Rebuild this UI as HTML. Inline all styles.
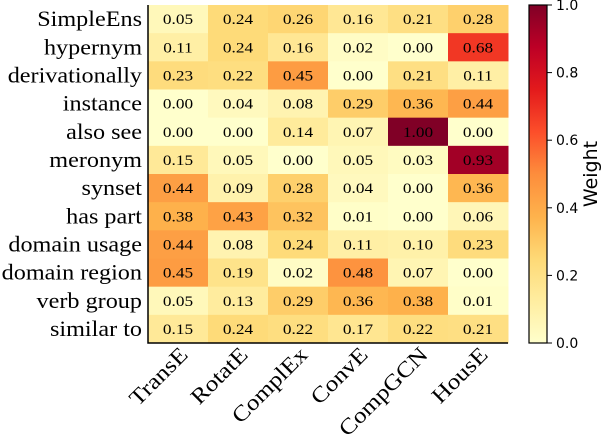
<!DOCTYPE html>
<html><head><meta charset="utf-8"><style>
body{margin:0;background:#fff;}
svg{display:block;}
</style></head><body>
<svg id="chart" width="604" height="436" xmlns="http://www.w3.org/2000/svg"></svg>
<script>
const rows=["SimpleEns","hypernym","derivationally","instance","also see","meronym","synset","has part","domain usage","domain region","verb group","similar to"];
const cols=["TransE","RotatE","ComplEx","ConvE","CompGCN","HousE"];
const values=[
[0.05,0.24,0.26,0.16,0.21,0.28],
[0.11,0.24,0.16,0.02,0.00,0.68],
[0.23,0.22,0.45,0.00,0.21,0.11],
[0.00,0.04,0.08,0.29,0.36,0.44],
[0.00,0.00,0.14,0.07,1.00,0.00],
[0.15,0.05,0.00,0.05,0.03,0.93],
[0.44,0.09,0.28,0.04,0.00,0.36],
[0.38,0.43,0.32,0.01,0.00,0.06],
[0.44,0.08,0.24,0.11,0.10,0.23],
[0.45,0.19,0.02,0.48,0.07,0.00],
[0.05,0.13,0.29,0.36,0.38,0.01],
[0.15,0.24,0.22,0.17,0.22,0.21]];
const cbTicks=[0.0,0.2,0.4,0.6,0.8,1.0];

const NS="http://www.w3.org/2000/svg";
const svg=document.getElementById('chart');
const L=148,T=5,W=360,H=338,cw=W/cols.length,rh=H/rows.length;
const cbX=529,cbW=18,cbT=5,cbB=343;
const stops=["#ffffcc","#ffeda0","#fed976","#feb24c","#fd8d3c","#fc4e2a","#e31a1c","#bd0026","#800026"];
function hex(h){return [1,3,5].map(i=>parseInt(h.substr(i,2),16));}
function cmap(v){v=Math.max(0,Math.min(1,v));const p=v*(stops.length-1);const i=Math.min(Math.floor(p),stops.length-2);const f=p-i;const a=hex(stops[i]),b=hex(stops[i+1]);return `rgb(${a.map((x,k)=>Math.round(x+(b[k]-x)*f)).join(',')})`;}
function el(t,a){const e=document.createElementNS(NS,t);for(const k in a)e.setAttribute(k,a[k]);svg.appendChild(e);return e;}
const xS=j=>L+j*cw, yS=i=>T+i*rh;
rows.forEach((r,i)=>{cols.forEach((c,j)=>{
 const v=values[i][j];
 const rect=el('rect',{x:xS(j),y:yS(i),width:cw+0.5,height:rh+0.5,fill:cmap(v)});
 
 
 const t=el('text',{x:0,y:0,'text-anchor':'middle','font-family':'Liberation Serif, serif','font-size':'15',fill:'#000',transform:`translate(${xS(j)+cw/2},${yS(i)+rh/2+5}) scale(1.15,1)`});
 t.textContent=v.toFixed(2);
 
 
});
 const lb=el('text',{x:0,y:0,'text-anchor':'end','font-family':'Liberation Serif, serif','font-size':'22',transform:`translate(${L-6},${yS(i)+rh/2+7}) scale(1.1,1)`});
 lb.textContent=r;
 
 
});
cols.forEach((c,j)=>{
 const x=xS(j)+cw/2;
 const t=el('text',{x:0,y:0,'text-anchor':'end','font-family':'Liberation Serif, serif','font-size':'22',transform:`translate(${x+11},${T+H+13}) rotate(-45) scale(1.15,1)`});
 t.textContent=c;
 
 
});
const ax=el('path',{d:`M${L},${T} V${T+H} H${L+W}`,fill:'none',stroke:'#000','stroke-width':1.5});


const defs=el('defs',{});
const g=document.createElementNS(NS,'linearGradient');g.setAttribute('id','cg');g.setAttribute('x1','0');g.setAttribute('y1','1');g.setAttribute('x2','0');g.setAttribute('y2','0');
stops.forEach((s,k)=>{const st=document.createElementNS(NS,'stop');st.setAttribute('offset',k/(stops.length-1));st.setAttribute('stop-color',s);g.appendChild(st);});
defs.appendChild(g);
const cb=el('rect',{x:cbX,y:cbT,width:cbW,height:cbB-cbT,fill:'url(#cg)',stroke:'#000','stroke-width':1.2});


const cy=v=>cbB-v*(cbB-cbT);
cbTicks.forEach(v=>{
 el('line',{x1:cbX+cbW,x2:cbX+cbW+5,y1:cy(v),y2:cy(v),stroke:'#000'});
 const t=el('text',{x:cbX+cbW+9,y:cy(v)+5,'font-family':'DejaVu Sans, sans-serif','font-size':'14'});
 t.textContent=v.toFixed(1);
 
 
});
const wl=el('text',{x:597,y:(cbT+cbB)/2,'text-anchor':'middle','font-family':'DejaVu Sans, sans-serif','font-size':'19',transform:`rotate(-90 597 ${(cbT+cbB)/2})`});
wl.textContent='Weight';


</script>
</body></html>
